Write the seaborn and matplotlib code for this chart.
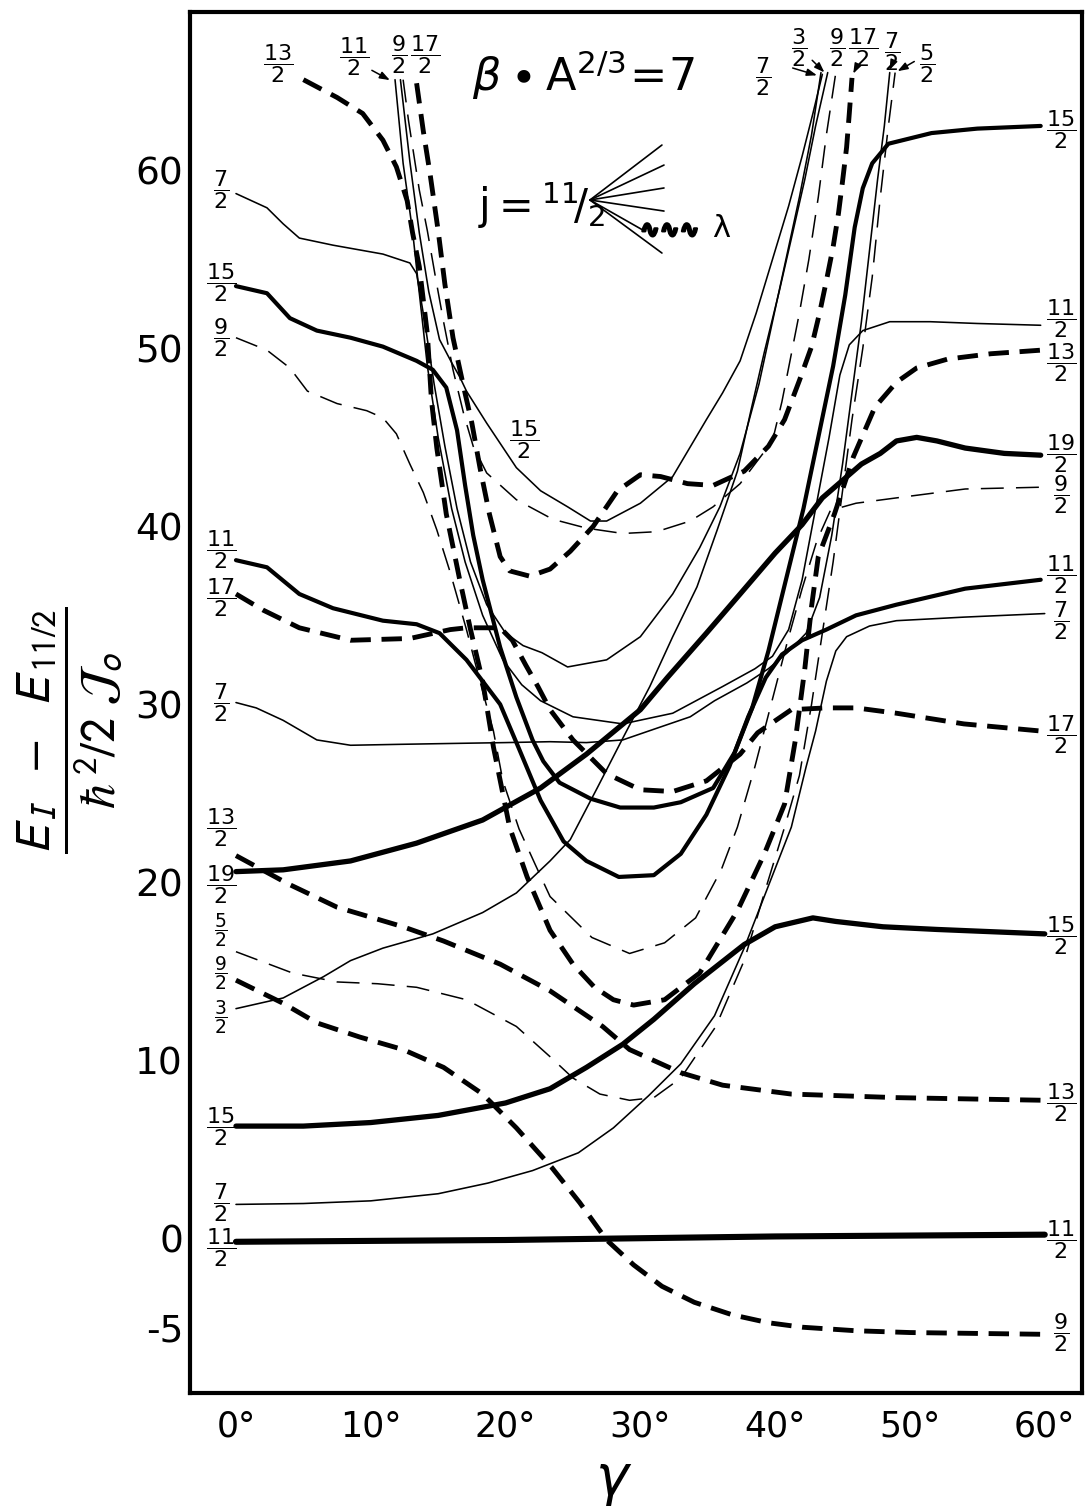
import numpy as np
import pandas as pd
import matplotlib
matplotlib.use("Agg")
import matplotlib.pyplot as plt
import matplotlib.patheffects as pe
import seaborn as sns

# ---------------- data (gamma in degrees, energy) ----------------
g_ground = [0, 10, 20, 30, 40, 50, 60]
e_ground = [-0.2, -0.15, -0.1, 0.0, 0.1, 0.15, 0.2]

g_92low = [0, 3.5, 6, 9.2, 12.4, 15.4, 18.3, 20.8, 23.4, 25.5, 27.5, 29.5, 31.6, 34, 36.8, 39.5, 42, 46, 50, 55, 60]
e_92low = [14.5, 13.2, 12.1, 11.3, 10.6, 9.6, 8.1, 6.2, 4.0, 2.0, -0.1, -1.5, -2.7, -3.6, -4.3, -4.75, -5.0, -5.2, -5.3, -5.35, -5.4]

g_152low = [0, 5, 10, 15, 20, 23.3, 26, 28.7, 31, 34, 37.7, 40, 42.8, 44.5, 48, 52, 60]
e_152low = [6.3, 6.3, 6.5, 6.9, 7.6, 8.4, 9.6, 10.9, 12.3, 14.3, 16.5, 17.5, 18.0, 17.8, 17.5, 17.35, 17.1]

g_132low = [0, 3.9, 7.5, 12.4, 15.4, 19.6, 23.3, 27.2, 29.2, 33, 36.1, 41.2, 49, 60]
e_132low = [21.5, 19.9, 18.6, 17.5, 16.7, 15.4, 13.9, 11.9, 10.6, 9.3, 8.6, 8.1, 7.9, 7.75]

g_72low = [0, 5, 10, 15, 18.7, 22, 25.4, 28, 30.6, 33, 35.5, 37.7, 39.5, 41.2, 42.3, 43, 43.8, 44.5, 45.3, 47, 49, 54, 60]
e_72low = [1.9, 1.95, 2.1, 2.5, 3.1, 3.8, 4.8, 6.2, 8.0, 9.8, 12.5, 16.3, 19.8, 23.1, 26.5, 28.5, 31.3, 33.0, 33.8, 34.4, 34.7, 34.9, 35.1]

g_32 = [0, 3.5, 6.5, 8.5, 10.9, 14.6, 18.3, 20.8, 23.3, 24.8, 26.8, 28.7, 30.7, 32.4, 34.2, 35.7, 37.2, 38.2, 39.2, 40.3, 41.3, 42.2, 43.0, 43.9]
e_32 = [12.9, 13.5, 14.7, 15.6, 16.3, 17.1, 18.3, 19.4, 21.2, 22.4, 25.3, 28.1, 31.0, 33.8, 36.6, 39.8, 43.1, 46.5, 49.8, 53.2, 56.5, 59.5, 62.5, 65.5]

g_52 = [0, 4.2, 7.5, 10.5, 13.4, 17.1, 20.8, 23.3, 25, 27, 29.2, 31, 33, 35.6, 37.7, 39.2, 40.7, 41.8, 42.7, 43.5, 44.3, 45, 45.7, 46.5, 47.2, 47.8, 48.4, 48.9]
e_52 = [16.1, 14.9, 14.4, 14.3, 14.1, 13.4, 11.9, 10.2, 9.0, 8.1, 7.75, 7.9, 9.0, 11.9, 15.6, 19.4, 23.1, 26.0, 30.0, 34.0, 38.0, 42.0, 46.0, 50.0, 54.0, 58.5, 62.5, 65.5]

g_92mid = [0, 2.3, 4, 5.3, 7.5, 9.7, 10.9, 11.9, 12.9, 13.9, 14.9, 15.9, 17.1, 18.1, 19.1, 19.8, 21, 22.2, 23.3, 26.4, 29.2, 31.8, 34.1, 36, 37.2, 38.5, 39.7, 40.9, 42, 43.1, 44.1, 46, 49, 54.1, 59.7]
e_92mid = [50.6, 49.9, 48.9, 47.6, 46.9, 46.5, 46.1, 45.2, 43.5, 41.9, 39.8, 37.4, 34.2, 31.3, 28.5, 25.7, 23.0, 21.0, 19.2, 16.9, 16.0, 16.6, 18.0, 20.7, 23.1, 26.5, 30.0, 33.5, 36.5, 39.2, 40.9, 41.3, 41.6, 42.1, 42.2]

g_72mid = [0, 1.5, 3.5, 6, 8.5, 12, 15.9, 20, 23.3, 26, 28.7, 31, 33.7, 35.5, 37.9, 39.5, 40.9, 42.3, 43.3, 44.2, 45, 45.7, 46.4, 47, 47.6, 48.1, 48.5]
e_72mid = [30.1, 29.8, 29.1, 28.0, 27.7, 27.75, 27.8, 27.85, 27.9, 27.85, 28.0, 28.6, 29.3, 30.2, 31.2, 32.0, 32.9, 34.0, 36.0, 39.5, 43.5, 47.5, 51.5, 55.5, 59.5, 62.5, 65.5]

g_112thick = [0, 2.3, 4.7, 7.2, 10.9, 13.4, 15.1, 17.1, 19.6, 21, 22.6, 24.3, 26, 28.4, 31, 33, 34.9, 36.6, 38, 39.3, 40.5, 42, 43.8, 46, 49, 54.1, 59.7]
e_112thick = [38.1, 37.7, 36.2, 35.4, 34.7, 34.5, 34.0, 32.5, 30.0, 27.5, 24.6, 22.3, 21.2, 20.3, 20.4, 21.6, 23.8, 26.5, 29.3, 31.5, 32.8, 33.6, 34.2, 35.0, 35.6, 36.5, 37.0]

g_112thin = [11.8, 12.4, 13.1, 13.5, 14.2, 15, 16, 17, 18.3, 19.8, 21.2, 22.6, 25, 28.7, 32.4, 36.1, 38.5, 39.8, 41, 42, 43, 44, 44.8, 45.5, 46.5, 48.5, 51.5, 55, 59.7]
e_112thin = [65.1, 60.4, 56.6, 53.8, 49.0, 45.0, 41.0, 38.0, 35.0, 32.5, 31.1, 30.2, 29.3, 28.9, 29.5, 31.0, 32.0, 32.7, 34.2, 37.0, 41.0, 45.0, 48.5, 50.2, 51.0, 51.5, 51.5, 51.4, 51.3]

g_152thick = [0, 2.3, 4, 6, 8.5, 10.9, 13.4, 14.6, 15.6, 16.4, 17, 17.6, 18.3, 19.6, 20.8, 22, 22.8, 24, 26.3, 28.5, 31, 33, 35.4, 37, 38.3, 39.5, 40.8, 42.1, 43.2, 44.3, 45.2, 45.9, 46.5, 47.2, 48.4, 51.6, 55, 59.7]
e_152thick = [53.5, 53.1, 51.7, 51.0, 50.6, 50.1, 49.3, 48.8, 47.8, 45.4, 42.3, 39.5, 37.0, 33.2, 30.4, 28.0, 26.8, 25.6, 24.7, 24.2, 24.2, 24.5, 25.3, 27.3, 29.8, 33.0, 37.0, 41.0, 45.0, 49.0, 53.0, 56.8, 59.0, 60.4, 61.5, 62.1, 62.35, 62.5]

g_152thin = [12.2, 12.9, 13.6, 14.3, 15.1, 16, 16.6, 17.1, 18.6, 20.8, 22.6, 24.6, 26.3, 27.5, 30, 32.4, 34.9, 36.1, 37.4, 38.6, 39.8, 41, 42, 42.8, 43.5]
e_152thin = [65.1, 60.5, 56.5, 53.2, 50.5, 49.2, 48.4, 47.6, 45.8, 43.3, 42.0, 41.1, 40.3, 40.3, 41.3, 42.8, 46.0, 47.5, 49.3, 52.0, 55.0, 58.0, 60.8, 63.2, 65.4]

g_72up = [0, 2.3, 3.5, 4.7, 7.2, 10.9, 12.9, 13.4, 14, 14.7, 15.5, 16.4, 17.4, 18.6, 20, 21.3, 22.7, 24.6, 27.5, 30, 32.4, 34.4, 35.9, 37.4, 38.8, 39.8, 40.8, 41.8, 42.7, 43.4]
e_72up = [58.7, 57.9, 57.0, 56.2, 55.8, 55.3, 54.8, 54.2, 51.5, 48.0, 44.5, 41.0, 38.0, 35.6, 34.0, 33.3, 32.9, 32.1, 32.5, 33.8, 36.2, 38.8, 41.1, 44.1, 48.0, 51.5, 55.0, 58.5, 62.0, 65.5]

g_92up = [12.4, 12.8, 13.6, 14.2, 14.8, 15.4, 16.1, 16.9, 17.6, 18.6, 20.8, 23.5, 26, 28.7, 31.2, 33.7, 35.4, 37.4, 39.8, 40.5, 41.1, 41.8, 42.5, 43.2, 43.8, 44.5]
e_92up = [65.1, 62.8, 58.9, 56.6, 54.0, 51.5, 48.8, 46.3, 44.5, 43.0, 41.5, 40.4, 39.9, 39.6, 39.7, 40.3, 41.1, 42.4, 44.8, 47.0, 49.3, 52.0, 55.0, 58.5, 62.0, 65.5]

g_132up = [5, 7.5, 9.4, 10.9, 11.9, 12.7, 13.1, 13.6, 14.2, 14.5, 14.9, 15.6, 16.6, 17.4, 18.3, 19.1, 20.3, 21.6, 23.3, 25, 26.6, 28, 29.5, 31.8, 34.4, 37.2, 39.2, 40.7, 41.5, 42.2, 42.7, 43.2, 44.4, 45.8, 47.4, 49, 50.5, 52.8, 56, 59.7]
e_132up = [65.1, 64.1, 63.2, 61.7, 60.2, 58.3, 56.5, 54.6, 50.8, 47.1, 44.4, 40.7, 37.0, 34.2, 31.3, 27.6, 23.1, 20.3, 17.3, 15.4, 14.1, 13.4, 13.1, 13.4, 14.9, 18.4, 21.6, 24.4, 28.0, 32.0, 35.5, 38.3, 40.7, 43.9, 46.7, 48.1, 48.9, 49.4, 49.7, 49.9]

g_172up = [13.4, 13.9, 14.4, 15, 15.5, 16.1, 16.9, 17.5, 18.1, 18.8, 19.6, 20.3, 21.8, 23.3, 24.8, 26.5, 28.3, 30, 31.5, 33.5, 35.4, 37.7, 39.5, 40.7, 41.8, 42.7, 43.3, 43.8, 44.3, 44.7, 45, 45.3, 45.5, 45.7]
e_172up = [64.9, 62.2, 59.8, 56.6, 53.6, 50.6, 47.8, 45.8, 43.3, 40.7, 38.3, 37.5, 37.2, 37.6, 38.6, 40.0, 42.0, 42.9, 42.8, 42.4, 42.3, 43.1, 44.5, 46.0, 48.2, 50.1, 52.0, 53.8, 55.7, 57.6, 59.4, 61.3, 63.2, 65.2]

g_172low = [0, 2, 4.7, 8.5, 12.9, 15.9, 17.1, 19.6, 20.5, 21.5, 22.4, 23.3, 25, 27.5, 30, 32.4, 34.9, 37.4, 38.7, 41.2, 43.8, 46, 49, 54, 59.7]
e_172low = [36.2, 35.3, 34.3, 33.6, 33.7, 34.2, 34.3, 34.3, 33.6, 32.2, 31.0, 29.7, 28.0, 26.1, 25.2, 25.1, 25.7, 27.2, 28.4, 29.7, 29.8, 29.8, 29.5, 28.9, 28.5]

g_192 = [0, 3.5, 8.5, 13.4, 18.3, 22.6, 26, 30, 32, 34.9, 37.4, 40, 42, 43.5, 46.4, 47.8, 49, 50.5, 52, 54.1, 57, 59.7]
e_192 = [20.6, 20.7, 21.2, 22.2, 23.5, 25.3, 27.2, 29.7, 31.5, 34.0, 36.2, 38.5, 40.1, 41.6, 43.5, 44.1, 44.8, 45.0, 44.8, 44.4, 44.1, 44.0]

# spin labels
left_labels = ["7/2", "15/2", "9/2", "11/2", "17/2", "7/2", "13/2", "19/2", "5/2", "9/2", "3/2", "15/2", "7/2", "11/2"]
left_label_E = [58.9, 53.7, 50.6, 38.7, 36.0, 30.1, 23.1, 19.9, 17.3, 14.9, 12.4, 6.3, 2.0, -0.5]
right_labels = ["15/2", "11/2", "13/2", "19/2", "9/2", "11/2", "7/2", "17/2", "15/2", "13/2", "11/2", "9/2"]
right_label_E = [62.3, 51.7, 49.2, 44.1, 41.8, 37.3, 34.7, 28.3, 17.0, 7.6, -0.1, -5.3]
top_labels = ["13/2", "11/2", "9/2", "17/2", "7/2", "3/2", "9/2", "17/2", "7/2", "5/2", "15/2"]
top_label_g = [3.1, 8.8, 12.1, 14.0, 39.1, 41.8, 44.6, 46.5, 48.7, 51.3, 21.4]
top_label_E = [66.0, 66.4, 66.5, 66.5, 65.3, 66.9, 66.9, 66.9, 66.7, 66.0, 44.9]

x_ticks = [0, 10, 20, 30, 40, 50, 60]
x_ticklabels = ["0°", "10°", "20°", "30°", "40°", "50°", "60°"]
y_ticks = [-5, 0, 5, 10, 15, 20, 25, 30, 35, 40, 45, 50, 55, 60]
y_ticklabels = ["-5", "0", "", "10", "", "20", "", "30", "", "40", "", "50", "", "60"]

# ---------------- build a long table ----------------
curve_specs = [
    ("ground", g_ground, e_ground, "TSX"),
    ("92low", g_92low, e_92low, "TD"),
    ("152low", g_152low, e_152low, "TS"),
    ("132low", g_132low, e_132low, "TD"),
    ("72low", g_72low, e_72low, "S"),
    ("32", g_32, e_32, "S"),
    ("52", g_52, e_52, "D"),
    ("92mid", g_92mid, e_92mid, "D"),
    ("72mid", g_72mid, e_72mid, "S"),
    ("112thick", g_112thick, e_112thick, "TM"),
    ("112thin", g_112thin, e_112thin, "S"),
    ("152thick", g_152thick, e_152thick, "TM"),
    ("152thin", g_152thin, e_152thin, "S"),
    ("72up", g_72up, e_72up, "S"),
    ("92up", g_92up, e_92up, "D"),
    ("132up", g_132up, e_132up, "TD"),
    ("172up", g_172up, e_172up, "TD"),
    ("172low", g_172low, e_172low, "TD"),
    ("192", g_192, e_192, "TS"),
]
frames = []
for name, g, e, st in curve_specs:
    frames.append(pd.DataFrame({"gamma": g, "E": e, "curve": name, "style": st}))
df = pd.concat(frames, ignore_index=True)

style_kw = {
    "TSX": dict(linewidth=4.4, linestyle="-", solid_capstyle="round"),
    "TS": dict(linewidth=3.8, linestyle="-", solid_capstyle="round"),
    "TM": dict(linewidth=3.0, linestyle="-", solid_capstyle="round"),
    "S": dict(linewidth=1.15, linestyle="-"),
    "TD": dict(linewidth=3.5, linestyle=(0, (4.2, 2.2))),
    "D": dict(linewidth=1.1, linestyle=(0, (15, 8))),
}

# ---------------- figure ----------------
sns.set_theme(style="white")
plt.rcParams["font.family"] = ["DejaVu Sans"]
plt.rcParams["mathtext.fontset"] = "dejavusans"
plt.rcParams["text.color"] = "black"
plt.rcParams["axes.labelcolor"] = "black"
plt.rcParams["xtick.color"] = "black"
plt.rcParams["ytick.color"] = "black"

fig = plt.figure(figsize=(10.92, 15.06), dpi=100)
ax = fig.add_axes([0.174, 0.075, 0.8168, 0.917])

for name, sub in df.groupby("curve", sort=False):
    st = sub["style"].iloc[0]
    sns.lineplot(data=sub, x="gamma", y="E", ax=ax, color="black", sort=False,
                 estimator=None, legend=False, **style_kw[st])

ax.set_xlim(-3.41, 62.76)
ax.set_ylim(-8.7, 68.9)
ax.set_xticks(x_ticks)
ax.set_xticklabels(x_ticklabels)
ax.set_yticks(y_ticks)
ax.set_yticklabels(y_ticklabels)
ax.set_xlabel("")
ax.set_ylabel("")
ax.tick_params(axis="y", direction="in", length=11, width=2.2, labelsize=27, pad=5, colors="black")
ax.tick_params(axis="x", direction="in", length=13, width=2.2, labelsize=25, pad=12, colors="black")
for s in ax.spines.values():
    s.set_visible(True)
    s.set_linewidth(3.0)
    s.set_color("black")
ax.grid(False)


def frac(s):
    n, d = s.split("/")
    return r"$\dfrac{%s}{%s}$" % (n, d)


FS = 16
for lab, e in zip(left_labels, left_label_E):
    fs = 13.5 if e in (17.3, 14.9, 12.4) else FS
    ax.text(-1.1, e, frac(lab), ha="center", va="center", fontsize=fs, color="black")
for lab, e in zip(right_labels, right_label_E):
    ax.text(61.2, e, frac(lab), ha="center", va="center", fontsize=FS, color="black")
for lab, g, e in zip(top_labels, top_label_g, top_label_E):
    ax.text(g, e, frac(lab), ha="center", va="center", fontsize=FS, color="black")

arrow_from = [(9.9, 65.7), (41.1, 65.8), (42.6, 66.3), (46.1, 65.9), (48.7, 66.0), (50.5, 66.2)]
arrow_to = [(11.6, 65.0), (43.3, 65.3), (43.8, 65.4), (45.7, 65.3), (48.4, 65.5), (48.9, 65.5)]
for a, b in zip(arrow_from, arrow_to):
    ax.annotate("", xy=b, xytext=a,
                arrowprops=dict(arrowstyle="-|>,head_length=0.5,head_width=0.18", color="black", lw=1.1))

# parameter annotations
ax.text(0.316, 0.954, r"$\beta\bullet \mathrm{A}^{2/3}\!=\!7$", transform=ax.transAxes,
        fontsize=32, ha="left", va="center", color="black")
ax.text(0.323, 0.860, r"$\mathrm{j}={}^{11}\!/_{2}$", transform=ax.transAxes,
        fontsize=30, ha="left", va="center", color="black")

apex = (0.4484, 0.8639)
fan_ends = [(0.5291, 0.9037), (0.5314, 0.8892), (0.5314, 0.8726), (0.5314, 0.8559),
            (0.5078, 0.8421), (0.5291, 0.8255)]
for end in fan_ends:
    ax.plot([apex[0], end[0]], [apex[1], end[1]], color="black", lw=1.2, transform=ax.transAxes)
ax.text(0.5045, 0.842, "∿∿∿", transform=ax.transAxes, fontsize=17, fontweight="bold",
        ha="left", va="center", color="black",
        path_effects=[pe.withStroke(linewidth=1.8, foreground="black")])
ax.text(0.596, 0.843, "λ", transform=ax.transAxes, fontsize=22, ha="center", va="center",
        color="black")

fig.text(0.064, 0.515, r"$\dfrac{E_{\,I}\ \ -\ \ E_{\,11/2}}{\hbar^{2}/2\ \mathcal{J}_{o}}$", rotation=90,
         fontsize=36, ha="center", va="center", math_fontfamily="stixsans", color="black")
fig.text(0.562, 0.016, r"$\gamma$", fontsize=40, ha="center", va="center", color="black")

fig.savefig("out.png", dpi=100)
